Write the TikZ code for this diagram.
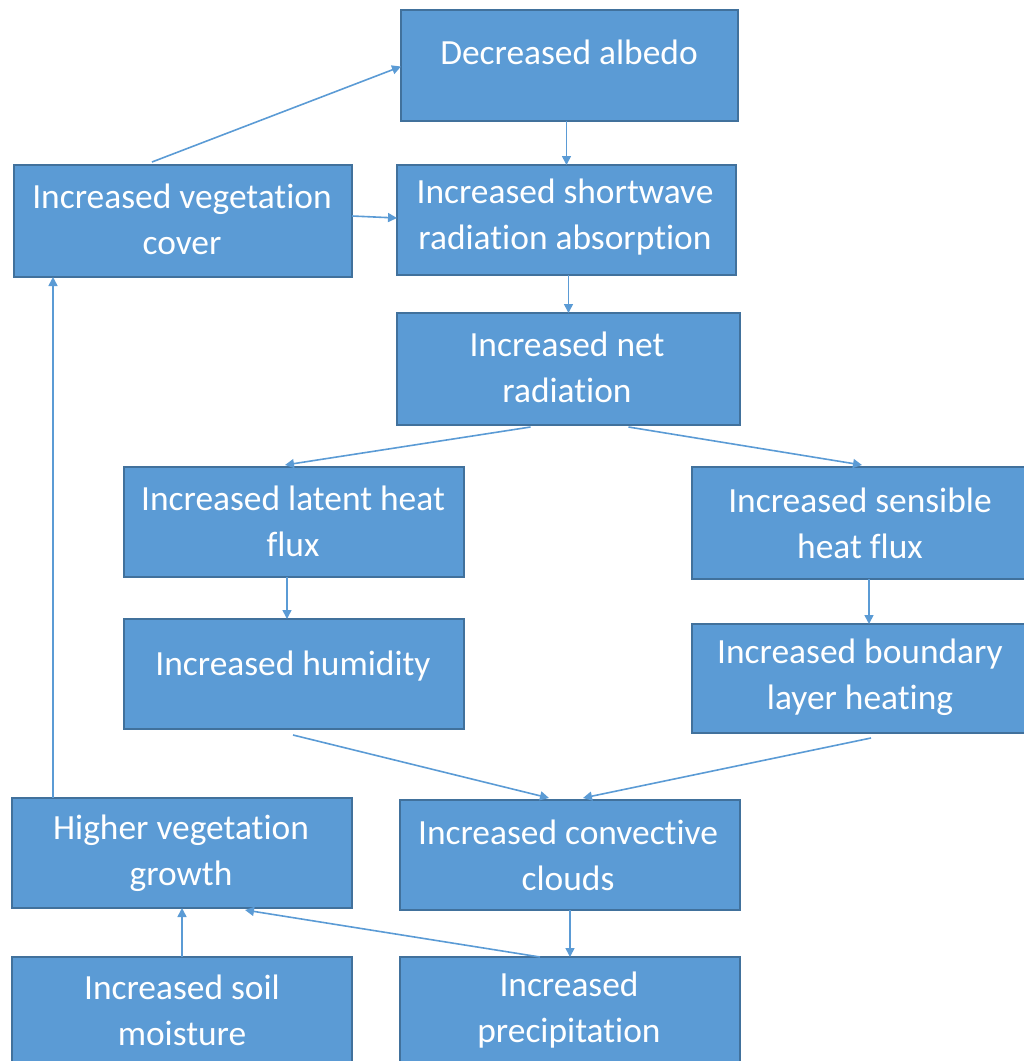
\documentclass[tikz,border=0pt]{standalone}
\usepackage{fontspec}
\setmainfont[RawFeature={-liga;-clig;-calt;-dlig}]{Carlito}
\usetikzlibrary{arrows.meta}
\definecolor{boxfill}{HTML}{5B9BD5}
\definecolor{boxline}{HTML}{41719C}
\definecolor{arr}{HTML}{5B9BD5}
\tikzset{
  box/.style={draw=boxline, line width=1.2pt, fill=boxfill, minimum width=#1, minimum height=110pt, inner sep=0pt, outer sep=0pt},
  box/.default=340pt,
  lbl/.style={text=white, align=center, font=\fontsize{35.4}{46}\selectfont, inner sep=0pt},
  conn/.style={draw=arr, line width=1.6pt, -{Triangle[width=9pt,length=9pt]}},
}
\begin{document}
\begin{tikzpicture}[x=1pt,y=-1pt]
\useasboundingbox (0,0) rectangle (1024,1061);
% boxes
\node[box=337pt, minimum height=111pt] (alb) at (569.5,65.5) {};
\node[box=338pt, minimum height=112pt] (vc) at (183,221) {};
\node[box=339pt] (sw) at (566.5,220) {};
\node[box=343pt, minimum height=112pt] (net) at (568.5,369) {};
\node[box] (lat) at (294,522) {};
\node[box=334pt, minimum height=112pt] (sen) at (859,523) {};
\node[box] (hum) at (294,674) {};
\node[box=334pt, minimum height=109pt] (bl) at (859,678.5) {};
\node[box] (gr) at (182,853) {};
\node[box] (cc) at (570,855) {};
\node[box] (sm) at (182,1012) {};
\node[box] (pr) at (570,1012) {};
% labels
\node[lbl] (albt) at (569,52) {Decreased albedo};
\node[lbl] (vct) at (182,219) {Increased vegetation\\cover};
\node[lbl] (swt) at (565,217) {Increased shortwave\\radiation absorption};
\node[lbl] (nett) at (567,367) {Increased net\\radiation};
\node[lbl] (latt) at (293,521) {Increased latent heat\\flux};
\node[lbl] (sent) at (860,523) {Increased sensible\\heat flux};
\node[lbl] (humt) at (293,666) {Increased humidity};
\node[lbl] (blt) at (860,677) {Increased boundary\\layer heating};
\node[lbl] (grt) at (181,853) {Higher vegetation\\growth};
\node[lbl] (cct) at (568,855) {Increased convective\\clouds};
\node[lbl] (smt) at (182,1010) {Increased soil\\moisture};
\node[lbl] (prt) at (569,1010) {Increased\\precipitation};
% connectors
\draw[conn] ([xshift=-31pt,yshift=3pt]vc.north) -- ([yshift=-1pt]alb.west);
\draw[conn] (alb.south -| sw.north) -- (sw.north);
\draw[conn] ([yshift=5pt]vc.east) -- ([yshift=2pt]sw.west);
\draw[conn] (sw.south -| net.north) -- (net.north);
\draw[conn] ([xshift=-38pt,yshift=-2pt]net.south) -- ([xshift=-9pt,yshift=2pt]lat.north);
\draw[conn] ([xshift=60pt,yshift=-2pt]net.south) -- ([xshift=3pt,yshift=2pt]sen.north);
\draw[conn] ([xshift=-7pt]lat.south) -- ([xshift=-7pt]lat.south |- hum.north);
\draw[conn] ([xshift=10pt]sen.south) -- ([xshift=10pt]sen.south |- bl.north);
\draw[conn] ([xshift=-1pt,yshift=-6pt]hum.south) -- ([xshift=-21pt,yshift=2pt]cc.north);
\draw[conn] ([xshift=12pt,yshift=-5pt]bl.south) -- ([xshift=13pt,yshift=2pt]cc.north);
\draw[conn] (cc.south -| pr.north) -- (pr.north);
\draw[conn] ([xshift=-30pt]pr.north) -- ([xshift=63pt,yshift=-2pt]gr.south);
\draw[conn] (sm.north) -- (gr.south);
\draw[conn] ([xshift=-129pt]gr.north) -- ([xshift=-129pt]gr.north |- vc.south);
\end{tikzpicture}
\end{document}
